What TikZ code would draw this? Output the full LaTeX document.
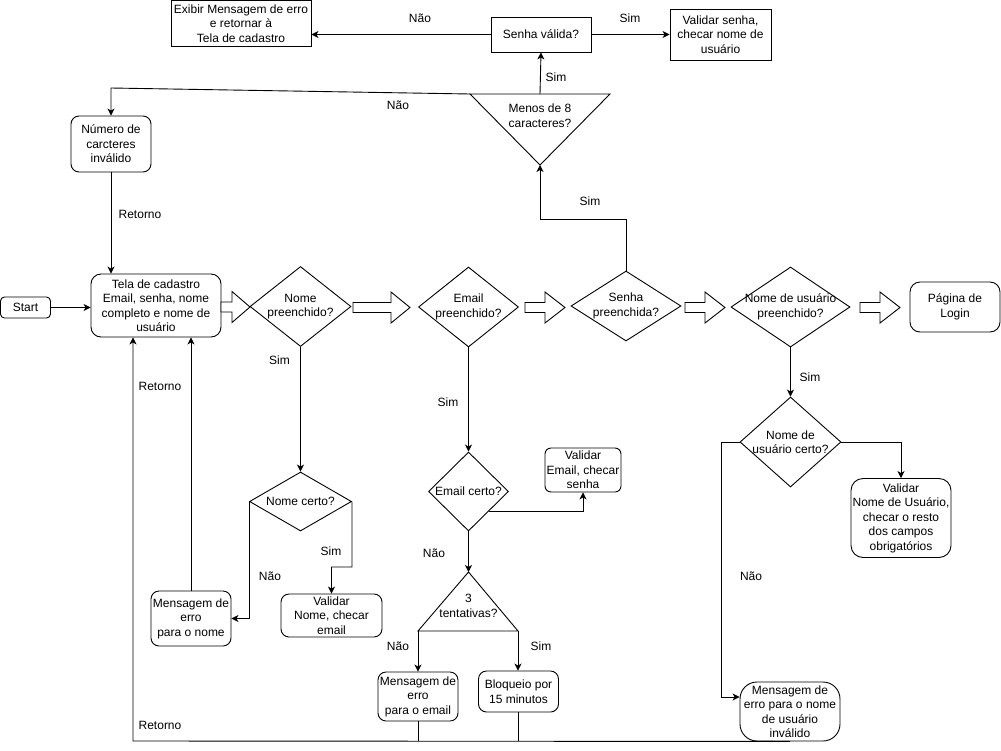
\documentclass[tikz,border=0pt]{standalone}
\usepackage{fontspec}
\setmainfont{Liberation Sans}
\usetikzlibrary{shapes.geometric,arrows.meta,calc}
\newcommand{\blkarr}[4]{%
\draw[blk] (#1,{#4-5}) -- (#2,{#4-5}) -- (#2,{#4-15.5}) -- (#3,#4) -- (#2,{#4+15.5}) -- (#2,{#4+5}) -- (#1,{#4+5}) -- cycle;}
\begin{document}
\begin{tikzpicture}[x=1pt,y=-1pt,line width=0.9pt,
  txt/.style={font=\fontsize{12}{14.5}\selectfont,align=center,inner sep=0},
  sbox/.style={draw,rectangle,inner sep=0},
  rbox/.style={draw,rectangle,rounded corners=8pt,inner sep=0},
  dia/.style={draw,diamond,inner sep=0},
  blk/.style={draw,fill=white,line width=0.9pt,line join=miter},
  arr/.style={-{Stealth[length=7pt,width=7pt,inset=2pt]}},
  ln/.style={}]
\fill[white] (0,0) rectangle (1001,750);
\useasboundingbox (0,0) rectangle (1001,750);

% top row
\node[sbox,minimum width=140,minimum height=46,label={[txt]center:{Exibir Mensagem de erro\\e retornar à\\Tela de cadastro}}] (exib) at (241,23.5) {};
\node[sbox,minimum width=100,minimum height=35,label={[txt]center:{Senha válida?}}] (sv) at (541,34.5) {};
\node[sbox,minimum width=101,minimum height=51,label={[txt]center:{Validar senha,\\checar nome de\\usuário}}] (vs) at (720.5,34.5) {};

% inverted triangle
\coordinate (t1L) at (470,94);
\coordinate (t1R) at (610,94);
\coordinate (t1T) at (540,94);
\coordinate (t1B) at (540,165);
\draw (t1L) -- (t1R) -- (t1B) -- cycle;
\node[txt] (t1) at (540,115.5) {Menos de 8\\caracteres?};

\node[rbox,minimum width=80,minimum height=56,label={[txt]center:{Número de\\carcteres\\inválido}}] (num) at (111,144) {};
\node[rbox,rounded corners=10pt,minimum width=130,minimum height=63,label={[txt]center:{Tela de cadastro\\Email, senha, nome\\completo e nome de\\usuário}}] (tela) at (156,305.5) {};
\node[rbox,rounded corners=4pt,minimum width=50,minimum height=21,label={[txt]center:{Start}}] (start) at (25.5,307.5) {};

% main row diamonds
\node[dia,minimum width=101,minimum height=80,label={[txt]center:{Nome\\preenchido?}}] (np) at (300.5,306.5) {};
\node[dia,minimum width=100,minimum height=80,label={[txt]center:{Email\\preenchido?}}] (ep) at (468.5,307) {};
\node[dia,minimum width=110,minimum height=70,label={[txt]center:{Senha\\preenchida?}}] (sp) at (626,306) {};
\node[dia,minimum width=119,minimum height=80,label={[txt]center:{Nome de usuário\\preenchido?}}] (nup) at (790.5,307) {};
\node[rbox,rounded corners=10pt,minimum width=90,minimum height=50,label={[txt]center:{Página de\\Login}}] (login) at (955,307) {};

% block arrows
\blkarr{221}{232}{250}{307}
\blkarr{353}{391}{410}{307.5}
\blkarr{525}{545}{565}{307.5}
\blkarr{685}{705}{725}{307.5}
\blkarr{860}{880}{900}{307.5}

% lower part
\node[dia,minimum width=101,minimum height=90,label={[txt]center:{Nome de\\usuário certo?}}] (nuc) at (790.5,442) {};
\node[rbox,rounded corners=12pt,minimum width=100,minimum height=79,label={[txt]center:{Validar\\Nome de Usuário,\\checar o resto\\dos campos\\obrigatórios}}] (vnu) at (901,518) {};
\node[dia,minimum width=102,minimum height=59,label={[txt]center:{Nome certo?}}] (nc) at (300.5,501.5) {};
\node[rbox,minimum width=101,minimum height=43,label={[txt]center:{Validar\\Nome, checar\\email}}] (vn) at (331.5,615.5) {};
\node[rbox,minimum width=80,minimum height=55,label={[txt]center:{Mensagem de\\erro\\para o nome}}] (mn) at (191,618.5) {};
\node[dia,minimum width=80,minimum height=79,label={[txt]center:{Email certo?}}] (ec) at (468.5,491.5) {};
\node[rbox,rounded corners=6pt,minimum width=76,minimum height=44,label={[txt]center:{Validar\\Email, checar\\senha}}] (ve) at (583,470) {};

\coordinate (t2T) at (468.5,572);
\coordinate (t2L) at (418,631);
\coordinate (t2R) at (518,631);
\draw (t2T) -- (t2R) -- (t2L) -- cycle;
\node[txt] (t2) at (468.5,606) {3\\tentativas?};

\node[rbox,minimum width=80,minimum height=49,label={[txt]center:{Mensagem de\\erro\\para o email}}] (me) at (418,696.5) {};
\node[rbox,minimum width=80,minimum height=41,label={[txt]center:{Bloqueio por\\15 minutos}}] (bl) at (518.5,691.5) {};
\node[rbox,rounded corners=17pt,minimum width=100,minimum height=59,label={[txt]center:{Mensagem de\\erro para o nome\\de usuário\\inválido}}] (musr) at (790,711.5) {};

% connectors
\draw[arr] (sv.west) -- (sv.west -| exib.east);
\draw[arr] (sv.east) -- (vs.west);
\draw[arr] (t1T) -- (sv.south);
\coordinate (k0) at (111,88);
\draw[arr] (t1L) -- (k0) -- (num.north);
\draw[arr] (num.south) -- (num.south |- tela.north);
\draw[arr] (start.east) -- (start.east -| tela.west);
\coordinate (k1) at (626,219);
\draw[arr] (sp.north) -- (k1) -| (t1B);
\draw[arr] (np.south) -- (nc.north);
\coordinate (k2) at (352,567);
\draw[arr] (nc.east) -- (k2) -| (vn.north);
\draw[arr] (nc.west) |- (mn.east);
\draw[arr] (mn.north) -- (mn.north |- tela.south);
\draw[arr] (ep.south) -- (ec.north);
\draw[arr] (ec.south east) -| (ve.south);
\draw[arr] (ec.south) -- (t2T);
\draw[arr] (t2L) -- (t2L |- me.north);
\draw[arr] (t2R) -- (t2R |- bl.north);
\coordinate (r1) at (133,741);
\draw[arr] (musr.south) -- (r1) -- (r1 |- tela.south);
\draw (me.south) -- (me.south |- r1);
\draw (bl.south) -- (bl.south |- r1);
\draw[arr] (nup.south) -- (nuc.north);
\coordinate (k3) at (721,697);
\draw[arr] (nuc.west) -| (k3) -- (k3 -| musr.west);
\draw[arr] (nuc.east) -| (vnu.north);

% labels
\node[txt] (l1) at (420,18) {Não};
\node[txt] (l2) at (630,18) {Sim};
\node[txt] (l3) at (556,77) {Sim};
\node[txt] (l4) at (398,105.5) {Não};
\node[txt] (l5) at (140,214) {Retorno};
\node[txt] (l6) at (590,201.5) {Sim};
\node[txt] (l7) at (279.5,360.5) {Sim};
\node[txt] (l8) at (160,386.5) {Retorno};
\node[txt] (l9) at (448,402) {Sim};
\node[txt] (l10) at (810,377) {Sim};
\node[txt] (l11) at (331,551.5) {Sim};
\node[txt] (l12) at (270,576) {Não};
\node[txt] (l13) at (434,553) {Não};
\node[txt] (l14) at (398,646.5) {Não};
\node[txt] (l15) at (541,646.5) {Sim};
\node[txt] (l16) at (751,576) {Não};
\node[txt] (l17) at (160,725.5) {Retorno};
\end{tikzpicture}
\end{document}
